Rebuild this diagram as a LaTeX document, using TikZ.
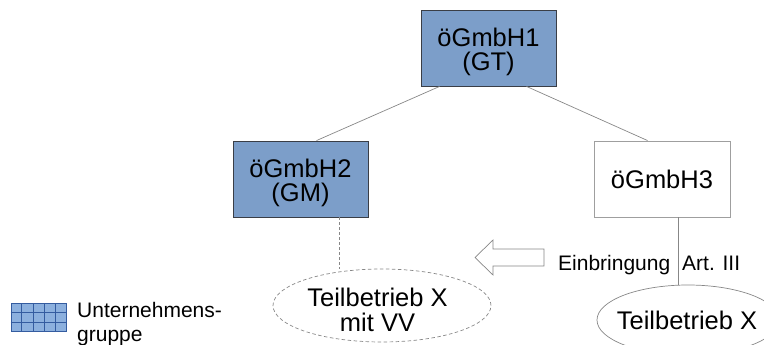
\documentclass[tikz,border=0pt]{standalone}
\usepackage{fontspec}
\setmainfont{Liberation Sans}
\usetikzlibrary{shapes.geometric,calc}

\definecolor{boxblue}{RGB}{124,158,201}
\definecolor{boxedge}{RGB}{58,62,70}
\definecolor{linegray}{RGB}{135,135,135}
\definecolor{legfill}{RGB}{140,176,222}
\definecolor{leggrid}{RGB}{52,92,160}

\begin{document}
\begin{tikzpicture}[x=1pt,y=-1pt,
  company/.style={draw=boxedge, line width=0.9pt, fill=boxblue,
    minimum width=135pt, minimum height=76pt, inner sep=0pt},
  plainco/.style={company, draw=linegray!80, fill=white},
  boxtext/.style={align=center, inner sep=0pt, font=\fontsize{25.5}{24}\selectfont},
  link/.style={draw=linegray, line width=0.7pt},
  oval/.style={ellipse, draw=linegray, line width=0.7pt, inner sep=0pt},
  bigtext/.style={align=center, inner sep=0pt, font=\fontsize{25.5}{25}\selectfont},
  smalltext/.style={inner sep=0pt, font=\fontsize{21}{24}\selectfont}]

\useasboundingbox (0,0) rectangle (764,345);

% companies
\node[company] (gt) at (488.5,48) {};
\node[boxtext] (gtname) at ([yshift=-4pt]gt.center) {öGmbH1\\(GT)};
\node[company] (gm) at (300.5,179) {};
\node[boxtext] (gmname) at ([yshift=-4pt]gm.center) {öGmbH2\\(GM)};
\node[plainco, minimum width=136pt] (h3) at (662,179) {};
\node[boxtext, anchor=base] (h3name) at (662,188) {öGmbH3};

% business units
\node[oval, dash pattern=on 3.5pt off 2.5pt, minimum width=218pt, minimum height=73pt] (ellL) at (382,305.5) {};
\node[bigtext] (txtL) at (377.5,310) {Teilbetrieb X\\mit VV};
\node[oval, minimum width=182pt, minimum height=70pt] (ellR) at (688,320) {};
\node[bigtext, anchor=base] (txtR) at (687,329) {Teilbetrieb X};

% ownership links
\draw[link] ([xshift=19pt]gt.south west) -- ([xshift=84pt]gm.north west);
\draw[link] ([xshift=106pt]gt.south west) -- ([xshift=54pt]h3.north west);
\draw[link, dash pattern=on 3pt off 2pt] ([xshift=107pt]gm.south west) coordinate (p2) -- (p2 |- ellL.north);
\draw[link] ([xshift=85pt]h3.south west) coordinate (p3) -- (p3 |- ellR.north);

% transfer arrow
\coordinate (tip) at (475,257.5);
\draw[draw=linegray, line width=0.7pt, fill=white]
  (tip) -- ++(18,-17.5) -- ++(0,9) -- ++(51,0) -- ++(0,17) -- ++(-51,0) -- ++(0,9) -- cycle;
\node[smalltext, anchor=base west] (einb) at (558,270.5) {Einbringung};
\node[smalltext, anchor=base west] (art) at (682,270.5) {Art. III};

% legend
\node[draw=leggrid, line width=0.9pt, fill=legfill, minimum width=55pt,
      minimum height=28pt, inner sep=0pt] (legend) at (38.5,317) {};
\foreach \i in {1,2,3,4}
  \draw[leggrid, line width=0.6pt] ($(legend.south west)!\i/5!(legend.south east)$)
    -- ($(legend.north west)!\i/5!(legend.north east)$);
\foreach \i in {1,2}
  \draw[leggrid, line width=0.6pt] ($(legend.south west)!\i/3!(legend.north west)$)
    -- ($(legend.south east)!\i/3!(legend.north east)$);
\node[smalltext, align=left, anchor=base west] (legtext) at (77,341)
  {Unternehmens-\\gruppe};
\end{tikzpicture}
\end{document}
